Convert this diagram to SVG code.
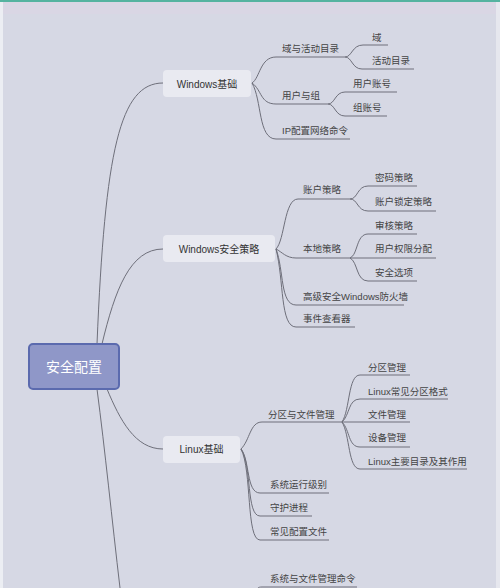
<svg xmlns="http://www.w3.org/2000/svg" width="500" height="588" viewBox="0 0 500 588">
<style>
text{font-family:"Liberation Sans","Noto Sans CJK SC",sans-serif;}
.c{fill:none;stroke:#6e6f7a;stroke-width:1;}
.n rect{fill:#e9eaf1;}
.nt{font-size:10px;fill:#333;text-anchor:middle;}
.t{font-size:9.5px;fill:#444;}
</style>
<rect x="0" y="0" width="500" height="588" fill="#d6d8e4"/>
<rect x="0" y="0" width="3" height="588" fill="#eceef3"/>
<rect x="496" y="0" width="4" height="588" fill="#e6e7ee"/>
<rect x="3" y="2" width="493" height="12" fill="#dad6e4" opacity="0.7"/>
<rect x="0" y="0" width="500" height="2" fill="#55b3a0"/>

<g id="connectors">
<path class="c" d="M97 344 C105 150, 120 83, 163 83"/>
<path class="c" d="M102 344 C115 290, 130 249, 163 249"/>
<path class="c" d="M107 389 C120 420, 135 449, 163 449"/>
<path class="c" d="M97 389 C105 450, 112 520, 120 588"/>

<path class="c" d="M252 83 C260 78, 260 57, 276 57 H345"/>
<path class="c" d="M345 57 C352 57, 352 45, 363 45 H388"/>
<path class="c" d="M345 57 C352 57, 352 69, 362 69 H414"/>
<path class="c" d="M252 83 C262 90, 260 104, 276 104 H328"/>
<path class="c" d="M328 104 C335 104, 335 92, 345 92 H397"/>
<path class="c" d="M328 104 C335 104, 335 116, 345 116 H387"/>
<path class="c" d="M252 83 C262 100, 258 139, 276 139 H350"/>

<path class="c" d="M276 249 C285 240, 284 199, 298 199 H350"/>
<path class="c" d="M350 199 C358 199, 357 186, 368 186 H417"/>
<path class="c" d="M350 199 C358 199, 357 211, 368 211 H436"/>
<path class="c" d="M276 249 C282 252, 286 258, 296 258 H350"/>
<path class="c" d="M350 258 C358 255, 356 234, 368 234 H417"/>
<path class="c" d="M350 258 H436"/>
<path class="c" d="M350 258 C358 262, 356 281, 368 281 H417"/>
<path class="c" d="M276 249 C284 270, 280 305, 296 305 H404"/>
<path class="c" d="M276 249 C284 280, 280 327, 296 327 H355"/>

<path class="c" d="M241 449 C250 440, 250 422, 262 422 H342"/>
<path class="c" d="M342 422 C350 410, 348 375, 360 375 H410"/>
<path class="c" d="M342 422 C350 415, 348 399, 360 399 H448"/>
<path class="c" d="M342 422 H410"/>
<path class="c" d="M342 422 C350 430, 348 447, 360 447 H410"/>
<path class="c" d="M342 422 C350 435, 348 469, 360 469 H467"/>
<path class="c" d="M241 449 C250 460, 246 493, 260 493 H329"/>
<path class="c" d="M241 449 C252 465, 246 516, 260 516 H312"/>
<path class="c" d="M241 449 C252 470, 246 540, 260 540 H329"/>
<path class="c" d="M256 592 C257 588, 258 587, 262 587 H357"/>
</g>

<g id="root">
<rect x="29" y="344" width="90" height="45" rx="4" fill="#8f97c8" stroke="#5b6aae" stroke-width="2"/>
<text x="74" y="372" font-size="14" fill="#ffffff" text-anchor="middle">安全配置</text>
</g>

<g id="win-basic" class="n">
<rect x="163" y="70" width="88" height="27" rx="4"/>
<text class="nt" x="207" y="87.5">Windows基础</text>
</g>
<g id="win-sec" class="n">
<rect x="163" y="235" width="112" height="27" rx="4"/>
<text class="nt" x="219" y="252.5">Windows安全策略</text>
</g>
<g id="linux-basic" class="n">
<rect x="163" y="436" width="77" height="27" rx="4"/>
<text class="nt" x="201.5" y="453">Linux基础</text>
</g>

<g id="w1"><text class="t" x="282" y="52">域与活动目录</text></g>
<g id="w1a"><text class="t" x="372" y="41">域</text></g>
<g id="w1b"><text class="t" x="372" y="64">活动目录</text></g>
<g id="w2"><text class="t" x="282" y="99">用户与组</text></g>
<g id="w2a"><text class="t" x="353" y="87">用户账号</text></g>
<g id="w2b"><text class="t" x="353" y="111">组账号</text></g>
<g id="w3"><text class="t" x="282" y="134">IP配置网络命令</text></g>

<g id="s1"><text class="t" x="303" y="193">账户策略</text></g>
<g id="s1a"><text class="t" x="375" y="181">密码策略</text></g>
<g id="s1b"><text class="t" x="375" y="205">账户锁定策略</text></g>
<g id="s2"><text class="t" x="303" y="252">本地策略</text></g>
<g id="s2a"><text class="t" x="375" y="229">审核策略</text></g>
<g id="s2b"><text class="t" x="375" y="252">用户权限分配</text></g>
<g id="s2c"><text class="t" x="375" y="276">安全选项</text></g>
<g id="s3"><text class="t" x="303" y="300">高级安全Windows防火墙</text></g>
<g id="s4"><text class="t" x="303" y="322">事件查看器</text></g>

<g id="l1"><text class="t" x="268" y="418">分区与文件管理</text></g>
<g id="l1a"><text class="t" x="368" y="371">分区管理</text></g>
<g id="l1b"><text class="t" x="368" y="395">Linux常见分区格式</text></g>
<g id="l1c"><text class="t" x="368" y="418">文件管理</text></g>
<g id="l1d"><text class="t" x="368" y="441">设备管理</text></g>
<g id="l1e"><text class="t" x="368" y="465">Linux主要目录及其作用</text></g>
<g id="l2"><text class="t" x="270" y="488">系统运行级别</text></g>
<g id="l3"><text class="t" x="270" y="511">守护进程</text></g>
<g id="l4"><text class="t" x="270" y="535">常见配置文件</text></g>
<g id="m1"><text class="t" x="270" y="582">系统与文件管理命令</text></g>
</svg>
